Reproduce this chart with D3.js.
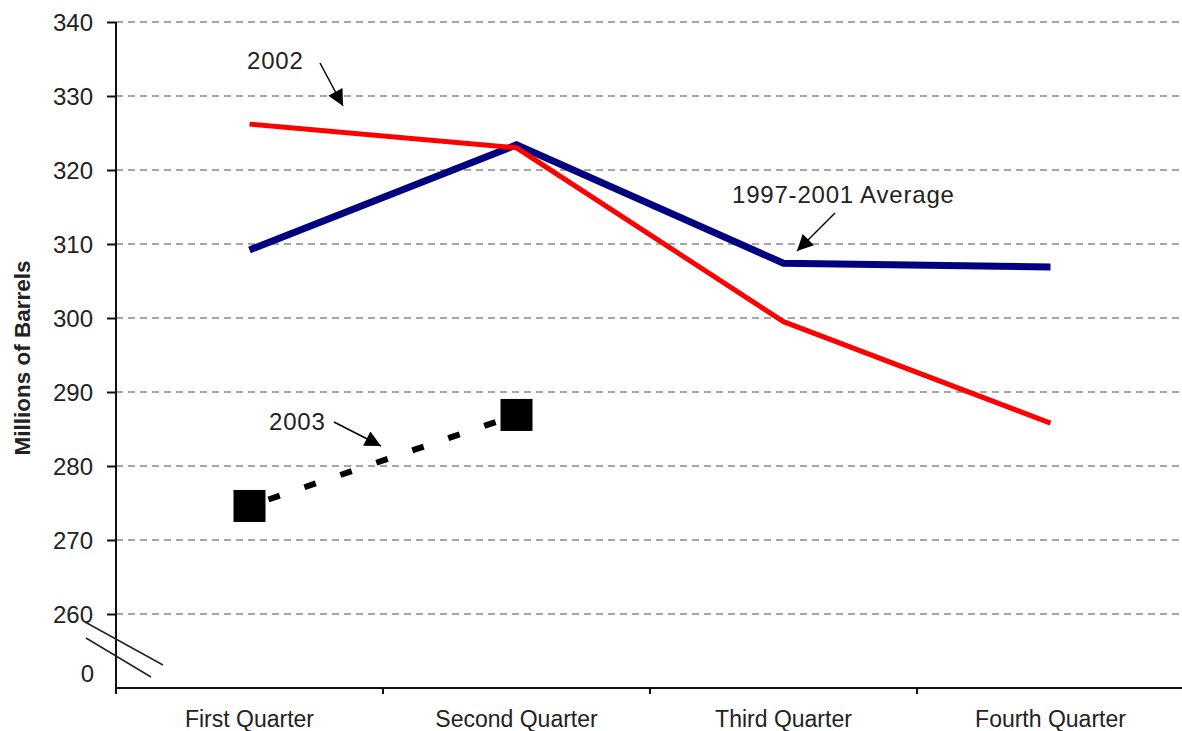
<!DOCTYPE html>
<html>
<head>
<meta charset="utf-8">
<script src="https://cdn.jsdelivr.net/npm/d3@7"></script>
<style>
  html, body { margin: 0; padding: 0; background: #fff; }
  svg { display: block; }
  text { font-family: "Liberation Sans", Arial, sans-serif; fill: #222; }
</style>
</head>
<body>
<svg id="chart" width="1182" height="731"></svg>
<script>
// Quarterly stocks, millions of barrels
const quarters = ["First Quarter", "Second Quarter", "Third Quarter", "Fourth Quarter"];
const average9701 = [309.2, 323.4, 307.4, 306.9];
const stocks2002 = [326.2, 323.0, 299.5, 285.8];
const stocks2003 = [274.6, 286.9];
const yTicks = [260, 270, 280, 290, 300, 310, 320, 330, 340];
const yBreakLabel = "0";

(function draw() {
  const svg = d3.select("#chart");
  const W = 1182;
  const plotLeft = 116, plotTop = 22, plotBottom = 688;

  const x = d3.scaleBand().domain(quarters).range([plotLeft, plotLeft + 267 * 4]).paddingInner(0).paddingOuter(0);
  const cx = q => x(q) + x.bandwidth() / 2;
  const y = d3.scaleLinear().domain([250, 340]).range([plotBottom, plotTop]);

  // dashed horizontal gridlines
  svg.append("g").selectAll("line").data(yTicks).join("line")
    .attr("x1", plotLeft).attr("x2", W)
    .attr("y1", d => y(d)).attr("y2", d => y(d))
    .attr("stroke", "#8a8a8a").attr("stroke-width", 1.5)
    .attr("stroke-dasharray", "7,5");

  // y axis
  const yAxis = svg.append("g").attr("transform", `translate(${plotLeft},0)`)
    .call(d3.axisLeft(y).tickValues(yTicks).tickSize(9).tickPadding(14).tickSizeOuter(0));
  yAxis.select(".domain").attr("stroke", "#111").attr("stroke-width", 2)
    .attr("d", `M0,${plotTop}V${plotBottom}`);
  yAxis.selectAll(".tick line").attr("stroke", "#111").attr("stroke-width", 2);
  yAxis.selectAll(".tick text")
    .style("font-family", '"Liberation Sans", Arial, sans-serif')
    .style("font-size", "24px").attr("fill", "#333").attr("dy", "0.36em");

  // broken-axis label and marks
  svg.append("text").attr("x", 94).attr("y", y(252)).attr("dy", "0.36em")
    .attr("text-anchor", "end").style("font-size", "24px").attr("fill", "#333")
    .text(yBreakLabel);
  svg.append("g").attr("stroke", "#222").attr("stroke-width", 1.5)
    .selectAll("line").data([[85, 622, 163, 665], [86, 638, 151, 677]]).join("line")
    .attr("x1", d => d[0]).attr("y1", d => d[1]).attr("x2", d => d[2]).attr("y2", d => d[3]);

  // x axis
  svg.append("line").attr("x1", plotLeft).attr("x2", W).attr("y1", plotBottom).attr("y2", plotBottom)
    .attr("stroke", "#111").attr("stroke-width", 2);
  svg.append("g").selectAll("line").data(quarters).join("line")
    .attr("x1", d => x(d)).attr("x2", d => x(d))
    .attr("y1", plotBottom).attr("y2", plotBottom + 6)
    .attr("stroke", "#111").attr("stroke-width", 2);
  svg.append("g").selectAll("text").data(quarters).join("text")
    .attr("x", d => cx(d)).attr("y", 727)
    .attr("text-anchor", "middle").style("font-size", "23px").attr("fill", "#222")
    .text(d => d);

  // y axis title
  svg.append("text")
    .attr("transform", "translate(30,358) rotate(-90)")
    .attr("text-anchor", "middle")
    .style("font-size", "22.5px").style("font-weight", "bold").attr("fill", "#111")
    .text("Millions of Barrels");

  const line = d3.line().x((d, i) => cx(quarters[i])).y(d => y(d));

  // 1997-2001 average
  svg.append("path").datum(average9701)
    .attr("d", line).attr("fill", "none")
    .attr("stroke", "#000080").attr("stroke-width", 7).attr("stroke-linejoin", "miter");

  // 2002
  svg.append("path").datum(stocks2002)
    .attr("d", line).attr("fill", "none")
    .attr("stroke", "#ff0000").attr("stroke-width", 5).attr("stroke-linejoin", "miter");

  // 2003 (partial year)
  svg.append("path").datum(stocks2003)
    .attr("d", line).attr("fill", "none")
    .attr("stroke", "#000").attr("stroke-width", 6)
    .attr("stroke-dasharray", "12,26").attr("stroke-dashoffset", -20);
  svg.append("g").selectAll("rect").data(stocks2003).join("rect")
    .attr("x", (d, i) => cx(quarters[i]) - 16).attr("y", d => y(d) - 16)
    .attr("width", 32).attr("height", 32).attr("fill", "#000");

  // annotation arrows
  const defs = svg.append("defs");
  defs.append("marker").attr("id", "arrow")
    .attr("viewBox", "0 0 10 10").attr("refX", 10).attr("refY", 5)
    .attr("markerUnits", "userSpaceOnUse")
    .attr("markerWidth", 20).attr("markerHeight", 16).attr("orient", "auto")
    .append("path").attr("d", "M0,0L10,5L0,10Z").attr("fill", "#000");

  const notes = [
    { text: "2002", tx: 247, ty: 69, from: [320, 63], to: [343, 106] },
    { text: "2003", tx: 269, ty: 430, from: [334, 422], to: [381, 446] },
    { text: "1997-2001 Average", tx: 732, ty: 203, from: [835, 213], to: [797, 251] }
  ];
  svg.append("g").selectAll("line").data(notes).join("line")
    .attr("x1", d => d.from[0]).attr("y1", d => d.from[1])
    .attr("x2", d => d.to[0]).attr("y2", d => d.to[1])
    .attr("stroke", "#000").attr("stroke-width", 1.5)
    .attr("marker-end", "url(#arrow)");
  svg.append("g").selectAll("text").data(notes).join("text")
    .attr("x", d => d.tx).attr("y", d => d.ty)
    .style("font-size", "24px").style("letter-spacing", "0.8px").attr("fill", "#222")
    .text(d => d.text);
})();
</script>
</body>
</html>
